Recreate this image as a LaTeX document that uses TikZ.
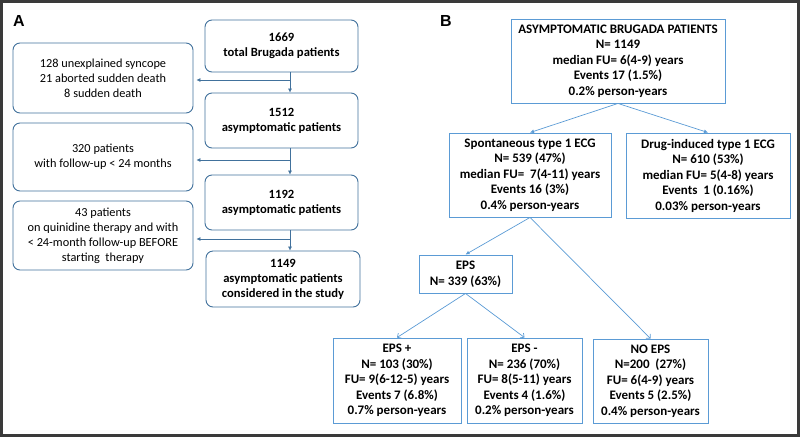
\documentclass[tikz,border=0pt]{standalone}
\usepackage{fontspec}
\setmainfont{Carlito}
\newfontfamily\panelfont{Liberation Sans}
\usepackage{xcolor}
\usepackage{tikz}
\usetikzlibrary{arrows.meta,positioning,calc}

\definecolor{flowdark}{HTML}{41719C}
\definecolor{flowlight}{HTML}{5B9BD5}
\definecolor{framegray}{HTML}{3A3A3A}

\tikzset{
  mainbox/.style={draw=flowdark,line width=0.9pt,rounded corners=7pt,align=center,
    inner sep=0pt,font=\fontsize{12.6}{15}\selectfont\bfseries},
  sidebox/.style={draw=flowdark,line width=0.9pt,rounded corners=7pt,align=center,
    inner sep=0pt,minimum width=180pt,font=\fontsize{12.3}{15}\selectfont},
  treebox/.style={draw=flowlight,line width=0.9pt,align=center,inner sep=0pt,
    font=\fontsize{13}{15.5}\selectfont\bfseries},
  flowarrow/.style={flowdark,line width=0.6pt,-{Latex[length=4pt,width=4pt]}},
  treearrow/.style={flowlight,line width=0.7pt,-{Latex[length=4pt,width=4pt]}},
  barbarrow/.style={flowlight,line width=0.7pt,-{Straight Barb[length=3pt,width=6pt]}},
}

\begin{document}
\begin{tikzpicture}[x=1pt,y=-1pt]
  \useasboundingbox (0,0) rectangle (800,437);
  \draw[framegray,line width=3pt] (1.5,1.5) rectangle (798.5,435.5);

  % panel A
  \node[font=\panelfont\fontsize{16}{16}\selectfont\bfseries] (labA) at (19,21) {A};
  \node[mainbox,minimum width=153pt,minimum height=52pt] (total) at (281.5,46)
    {1669\\total Brugada patients};
  \node[mainbox,minimum width=153pt,minimum height=55pt] (asymA) at (281.5,120.5)
    {1512\\asymptomatic patients};
  \node[mainbox,minimum width=153pt,minimum height=55pt] (asymB) at (281.5,202.5)
    {1192\\asymptomatic patients};
  \node[mainbox,minimum width=154pt,minimum height=56pt] (study) at (283,279)
    {1149\\asymptomatic patients\\considered in the study};

  \node[sidebox,minimum height=70pt] (excl1) at (103,78)
    {128 unexplained syncope\\21 aborted sudden death\\8 sudden death};
  \node[sidebox,minimum height=68pt] (excl2) at (103,157)
    {320 patients\\with follow-up < 24 months};
  \node[sidebox,minimum height=69pt] (excl3) at (103,235.5)
    {43 patients\\on quinidine therapy and with\\< 24-month follow-up BEFORE\\starting\ \ therapy};

  \coordinate (j1) at (290,80);
  \coordinate (j2) at (290,160);
  \coordinate (j3) at (290,239);
  \draw[flowarrow] (total.south -| j1) -- (asymA.north -| j1);
  \draw[flowarrow] (asymA.south -| j2) -- (asymB.north -| j2);
  \draw[flowarrow] (asymB.south -| j3) -- (study.north -| j3);
  \draw[flowarrow,shorten >=3pt] (j1) -- (excl1.east |- j1);
  \draw[flowarrow,shorten >=3pt] (j2) -- (excl2.east |- j2);
  \draw[flowarrow,shorten >=3pt] (j3) -- (excl3.east |- j3);

  % panel B
  \node[font=\panelfont\fontsize{16}{16}\selectfont\bfseries] (labB) at (446,21) {B};
  \node[treebox,minimum width=214pt,minimum height=84pt] (cohort) at (618,61)
    {ASYMPTOMATIC BRUGADA PATIENTS\\N= 1149\\median FU= 6(4-9) years\\Events 17 (1.5\%)\\0.2\% person-years};
  \node[treebox,minimum width=162pt,minimum height=84pt] (spont) at (530,175)
    {Spontaneous type 1 ECG\\N= 539 (47\%)\\median FU=\ \ 7(4-11) years\\Events 16 (3\%)\\0.4\% person-years};
  \node[treebox,minimum width=164pt,minimum height=85pt] (drug) at (708,175.5)
    {Drug-induced type 1 ECG\\N= 610 (53\%)\\median FU= 5(4-8) years\\Events\ \ 1 (0.16\%)\\0.03\% person-years};
  \node[treebox,minimum width=93pt,minimum height=38pt] (eps) at (465.5,274)
    {EPS\\N= 339 (63\%)};
  \node[treebox,minimum width=128pt,minimum height=85pt] (epspos) at (397,380.5)
    {EPS +\\N= 103 (30\%)\\FU= 9(6-12-5) years\\Events 7 (6.8\%)\\0.7\% person-years};
  \node[treebox,minimum width=115pt,minimum height=85pt] (epsneg) at (524.5,380.5)
    {EPS -\\N= 236 (70\%)\\FU= 8(5-11) years\\Events 4 (1.6\%)\\0.2\% person-years};
  \node[treebox,minimum width=115pt,minimum height=84pt] (noeps) at (650.5,381)
    {NO EPS\\N=200\ \ (27\%)\\FU= 6(4-9) years\\Events 5 (2.5\%)\\0.4\% person-years};

  \draw[treearrow] (cohort.south) -- (spont.north);
  \draw[treearrow] (cohort.south) -- (drug.north);
  \draw[treearrow] (spont.south) -- (eps.north);
  \draw[barbarrow] (spont.south) -- (noeps.north);
  \draw[barbarrow] (eps.south) -- (epspos.north);
  \draw[barbarrow] (eps.south) -- (epsneg.north);
\end{tikzpicture}
\end{document}
